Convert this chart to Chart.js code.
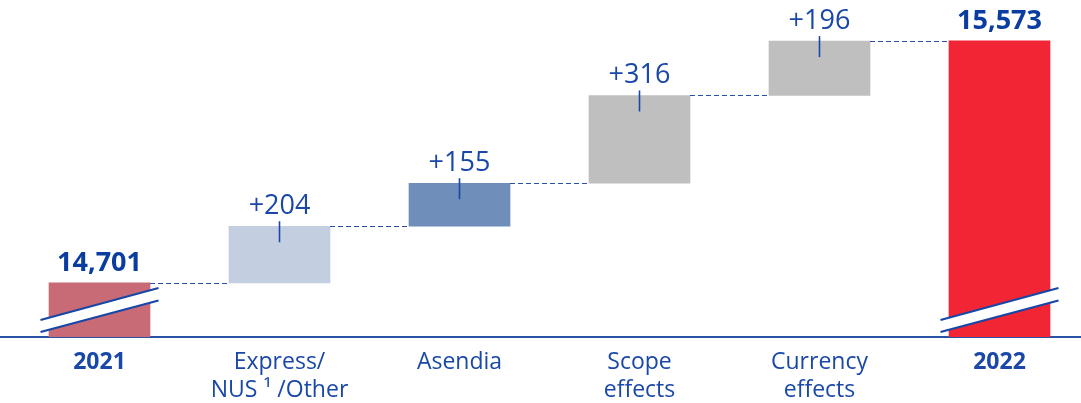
<!DOCTYPE html>
<html>
<head>
<meta charset="utf-8">
<script src="https://cdn.jsdelivr.net/npm/chart.js@4"></script>
<style>
  html, body { margin: 0; padding: 0; background: #ffffff; }
  #wrap { width: 1081px; height: 403px; position: relative; }
</style>
</head>
<body>
<div id="wrap"><canvas id="chart"></canvas></div>
<script>
// Revenue bridge 2021 -> 2022 (EUR m)
const categories = ['2021', ['Express/', 'NUS \u00b9 /Other'], 'Asendia', ['Scope', 'effects'], ['Currency', 'effects'], '2022'];
const startTotal = 14701;
const changes = [204, 155, 316, 196];
const endTotal = 15573;

// Visual styling
const barColors = ['#c96b77', '#c3cee1', '#6f8eba', '#bfbfbf', '#bfbfbf', '#f22535'];
const blue = '#1a48a8';
const darkBlue = '#0b3c9f';
const fontFamily = '"Open Sans", "DejaVu Sans", sans-serif';

// Broken value axis: bottom of the visible range
const axisFloor = 14506;
const axisCeil = 15720;

// Floating bars: totals rise from the axis floor, changes stack on the running total
const bridge = [[axisFloor, startTotal]];
let running = startTotal;
changes.forEach(c => { bridge.push([running, running + c]); running += c; });
bridge.push([axisFloor, endTotal]);
const points = bridge.map((range, i) => ({ x: i, y: range }));

const isTotal = i => i === 0 || i === categories.length - 1;

const bridgeDecor = {
  id: 'bridgeDecor',
  afterDatasetsDraw(chart) {
    const ctx = chart.ctx;
    const bars = chart.getDatasetMeta(0).data;
    const area = chart.chartArea;
    ctx.save();

    // dashed connectors between consecutive bars
    ctx.strokeStyle = '#2a50a6';
    ctx.lineWidth = 1.2;
    ctx.setLineDash([5, 3]);
    for (let i = 0; i < bars.length - 1; i++) {
      const a = bars[i], b = bars[i + 1];
      const y = Math.round(a.y) + 0.5;
      ctx.beginPath();
      ctx.moveTo(a.x + a.width / 2, y);
      ctx.lineTo(b.x - b.width / 2, y);
      ctx.stroke();
    }
    ctx.setLineDash([]);

    // value labels
    ctx.textAlign = 'center';
    ctx.textBaseline = 'alphabetic';
    bars.forEach((bar, i) => {
      if (isTotal(i)) {
        const v = i === 0 ? startTotal : endTotal;
        ctx.fillStyle = darkBlue;
        ctx.font = 'bold 27px ' + fontFamily;
        ctx.fillText(v.toLocaleString('en-US'), bar.x, bar.y - 12);
      } else {
        const v = changes[i - 1];
        ctx.fillStyle = blue;
        ctx.font = '27px ' + fontFamily;
        ctx.fillText('+' + v, bar.x, bar.y - 12);
        ctx.strokeStyle = blue;
        ctx.lineWidth = 1.6;
        ctx.beginPath();
        ctx.moveTo(bar.x, bar.y - 5);
        ctx.lineTo(bar.x, bar.y + 16);
        ctx.stroke();
      }
    });

    // axis-break marks across the total bars
    [0, bars.length - 1].forEach(i => {
      const bar = bars[i];
      const x0 = bar.x - 59, x1 = bar.x + 59;
      const b = area.bottom;
      ctx.fillStyle = '#ffffff';
      ctx.beginPath();
      ctx.moveTo(x0, b - 17);
      ctx.lineTo(x1, b - 49);
      ctx.lineTo(x1, b - 36.5);
      ctx.lineTo(x0, b - 5);
      ctx.closePath();
      ctx.fill();
      ctx.strokeStyle = '#1747a6';
      ctx.lineWidth = 2.2;
      ctx.beginPath();
      ctx.moveTo(x0, b - 17);
      ctx.lineTo(x1, b - 49);
      ctx.moveTo(x0, b - 5);
      ctx.lineTo(x1, b - 36.5);
      ctx.stroke();
    });
    ctx.restore();
  }
};

new Chart(document.getElementById('chart'), {
  type: 'bar',
  data: {
    datasets: [{
      data: points,
      backgroundColor: barColors,
      borderWidth: 0,
      barThickness: 101
    }]
  },
  options: {
    responsive: true,
    maintainAspectRatio: false,
    devicePixelRatio: 1,
    animation: false,
    layout: { padding: 0 },
    plugins: { legend: { display: false }, tooltip: { enabled: false } },
    scales: {
      x: {
        type: 'linear',
        min: -0.5528,
        max: 5.4528,
        offset: false,
        grid: { display: false },
        border: { display: true, color: '#2a53a6', width: 2 },
        afterBuildTicks: scale => { scale.ticks = categories.map((_, i) => ({ value: i })); },
        afterFit: scale => { scale.height = 66; },
        ticks: {
          autoSkip: false,
          maxRotation: 0,
          padding: 4,
          color: blue,
          callback: (value, index) => categories[index],
          font: ctx => ({
            family: fontFamily,
            size: 23,
            weight: isTotal(ctx.index) ? 'bold' : 'normal',
            lineHeight: 1.2
          })
        }
      },
      y: {
        display: false,
        min: axisFloor,
        max: axisCeil
      }
    }
  },
  plugins: [bridgeDecor]
});
</script>
</body>
</html>
